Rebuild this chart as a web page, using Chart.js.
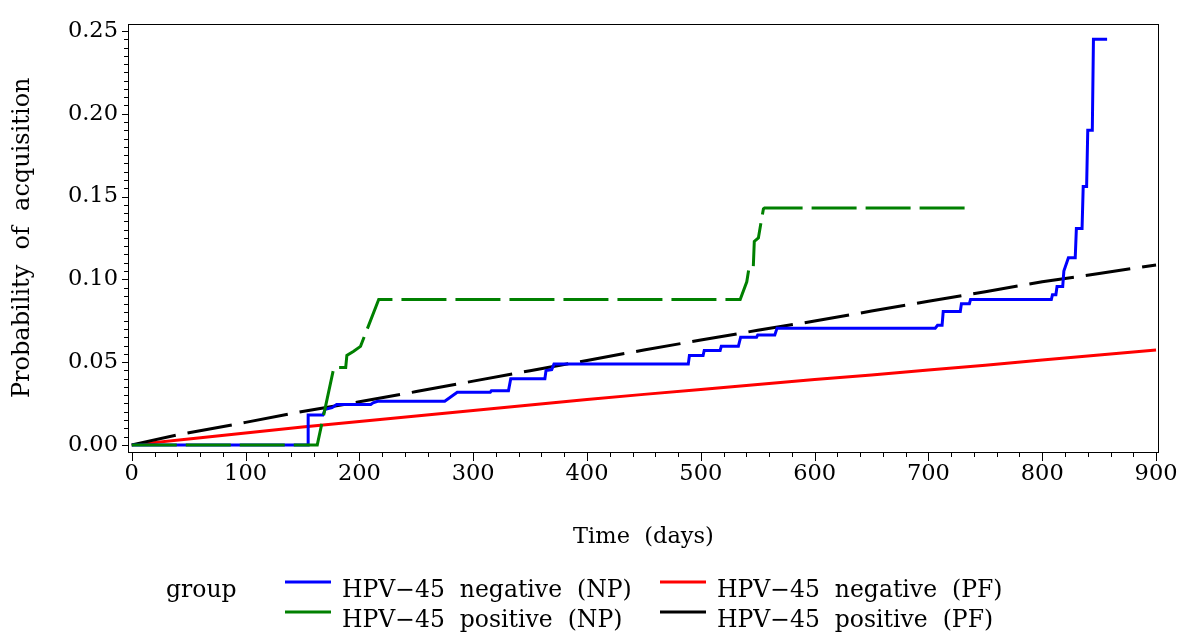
<!DOCTYPE html>
<html>
<head>
<meta charset="utf-8">
<script src="https://cdn.jsdelivr.net/npm/chart.js@4.4.0/dist/chart.umd.min.js"></script>
<style>
  html, body { margin: 0; padding: 0; background: #fff; }
</style>
</head>
<body>
<canvas id="kmChart" width="1187" height="642"></canvas>
<script>
// tick values
const xTicks = [0, 100, 200, 300, 400, 500, 600, 700, 800, 900];
const yTicks = [0, 0.05, 0.10, 0.15, 0.20, 0.25];

const groupLabels = [
  'HPV\u221245  negative  (NP)',
  'HPV\u221245  positive  (NP)',
  'HPV\u221245  negative  (PF)',
  'HPV\u221245  positive  (PF)'
];

// [day, probability]
const negNP = [
  [0, 0], [155, 0], [155, 0.018], [168, 0.018], [170, 0.0215], [176, 0.0225], [180, 0.0244],
  [210, 0.0244], [212, 0.0254], [216, 0.0263], [275, 0.0263], [286, 0.0318], [315, 0.0318],
  [316, 0.0327], [331, 0.0327], [333, 0.040], [363, 0.040], [364, 0.0449], [369, 0.0455],
  [371, 0.0488], [489, 0.0488], [490, 0.054], [502, 0.054], [503, 0.057], [517, 0.057],
  [518, 0.0595], [533, 0.0595], [535, 0.065], [549, 0.065], [550, 0.0663], [565, 0.0663],
  [567, 0.0705], [706, 0.0705], [708, 0.0722], [712, 0.0722], [713, 0.0806], [728, 0.0806],
  [729, 0.0853], [736, 0.0853], [737, 0.0878], [808, 0.0878], [809, 0.0907], [812, 0.0907],
  [813, 0.0956], [818, 0.0956], [819, 0.105], [823, 0.113], [829, 0.113], [830, 0.1307],
  [835, 0.1307], [836, 0.156], [839, 0.156], [840, 0.190], [844, 0.190], [845, 0.245], [857, 0.245]
];
const posNP = [
  [0, 0], [163, 0], [177.6, 0.0468], [188, 0.0468], [189, 0.054], [195, 0.0565], [201, 0.0595],
  [217, 0.0878], [534.6, 0.0878], [540.4, 0.0985], [542, 0.1054], [546, 0.1054], [547, 0.1229],
  [550.6, 0.125], [553, 0.1347], [555, 0.1425], [556, 0.143], [739.5, 0.143]
];
const negPF = [
  [0, 0], [50, 0.0035], [100, 0.0072], [150, 0.0108], [200, 0.0141], [250, 0.0174], [300, 0.0207],
  [350, 0.0241], [400, 0.0274], [450, 0.0305], [500, 0.0335], [550, 0.0365], [600, 0.0395],
  [650, 0.0422], [700, 0.0452], [750, 0.0481], [800, 0.0513], [850, 0.0543], [900, 0.0573]
];
const posPF = [
  [0, 0], [40, 0.006], [100, 0.0136], [150, 0.0202], [200, 0.026], [250, 0.0322], [300, 0.0385],
  [350, 0.0448], [400, 0.051], [450, 0.0573], [500, 0.0633], [550, 0.0692], [600, 0.0748],
  [650, 0.0808], [700, 0.0868], [750, 0.0925], [800, 0.0985], [850, 0.1035], [900, 0.1087]
];

const serif = 'DejaVu Serif';

const toXY = arr => arr.map(p => ({ x: p[0], y: p[1] }));

// frame, minor ticks and the "group" legend
const framePlugin = {
  id: 'frame',
  afterDraw(chart) {
    const ctx = chart.ctx;
    const a = chart.chartArea;
    const xs = chart.scales.x, ys = chart.scales.y;
    ctx.save();
    ctx.strokeStyle = '#000';
    ctx.lineWidth = 1;
    ctx.strokeRect(Math.round(a.left) + 0.5, Math.round(a.top) + 0.5,
      Math.round(a.right - a.left) - 1, Math.round(a.bottom - a.top) - 1);

    ctx.beginPath();
    for (let d = 0; d <= 900; d += 20) {
      const px = Math.round(xs.getPixelForValue(d)) + 0.5;
      const len = d % 100 === 0 ? 9 : 5;
      ctx.moveTo(px, a.bottom);
      ctx.lineTo(px, a.bottom + len);
    }
    for (let i = 0; i <= 50; i++) {
      const py = Math.round(ys.getPixelForValue(i * 0.005)) + 0.5;
      const len = i % 10 === 0 ? 6 : 4;
      ctx.moveTo(a.left, py);
      ctx.lineTo(a.left - len, py);
    }
    ctx.stroke();

    // legend
    ctx.font = '23.5px "' + serif + '"';
    ctx.fillStyle = '#000';
    ctx.textBaseline = 'middle';
    ctx.fillText('group', 166, 591);
    const cols = [285, 660];
    const rows = [591, 621];
    const order = [0, 2, 1, 3];
    order.forEach((di, k) => {
      const ds = chart.data.datasets[di];
      const cx = cols[k % 2], cy = rows[Math.floor(k / 2)];
      ctx.strokeStyle = ds.borderColor;
      ctx.lineWidth = 3;
      ctx.setLineDash([]);
      ctx.beginPath();
      ctx.moveTo(cx, cy - 9);
      ctx.lineTo(cx + 46, cy - 9);
      ctx.stroke();
      ctx.fillText(ds.label, cx + 57, cy);
    });
    ctx.restore();
  }
};

new Chart(document.getElementById('kmChart'), {
  type: 'line',
  data: {
    datasets: [
      { label: groupLabels[0], data: toXY(negNP), borderColor: '#0000ff', borderWidth: 3, order: 1 },
      { label: groupLabels[1], data: toXY(posNP), borderColor: '#008000', borderWidth: 3, borderDash: [45, 9], order: 0 },
      { label: groupLabels[2], data: toXY(negPF), borderColor: '#ff0000', borderWidth: 3, order: 3 },
      { label: groupLabels[3], data: toXY(posPF), borderColor: '#000000', borderWidth: 3, borderDash: [45, 12], order: 2 }
    ]
  },
  options: {
    responsive: false,
    animation: false,
    devicePixelRatio: 1,
    layout: { padding: { top: 10, right: 28, left: 0, bottom: 0 } },
    elements: { point: { radius: 0 }, line: { tension: 0, borderCapStyle: 'butt' } },
    plugins: { legend: { display: false }, tooltip: { enabled: false } },
    scales: {
      x: {
        type: 'linear',
        min: -3.3,
        max: 902.6,
        afterFit(s) { s.height = 190; },
        afterBuildTicks(s) { s.ticks = xTicks.map(v => ({ value: v })); },
        grid: { display: false, drawTicks: false },
        border: { display: false },
        ticks: { color: '#000', font: { family: serif, size: 22.5 }, padding: 9, maxRotation: 0 },
        title: { display: true, text: 'Time  (days)', color: '#000', font: { family: serif, size: 22.5 }, padding: { bottom: 91 } }
      },
      y: {
        type: 'linear',
        min: -0.0043,
        max: 0.2545,
        afterFit(s) { s.width = 128; },
        afterBuildTicks(s) { s.ticks = yTicks.map(v => ({ value: v })); },
        grid: { display: false, drawTicks: false },
        border: { display: false },
        ticks: { color: '#000', font: { family: serif, size: 22.5 }, padding: 10, callback: v => v.toFixed(2) },
        title: { display: true, text: 'Probability  of  acquisition', color: '#000', font: { family: serif, size: 24 }, padding: { top: 8 } }
      }
    }
  },
  plugins: [framePlugin]
});
</script>
</body>
</html>
